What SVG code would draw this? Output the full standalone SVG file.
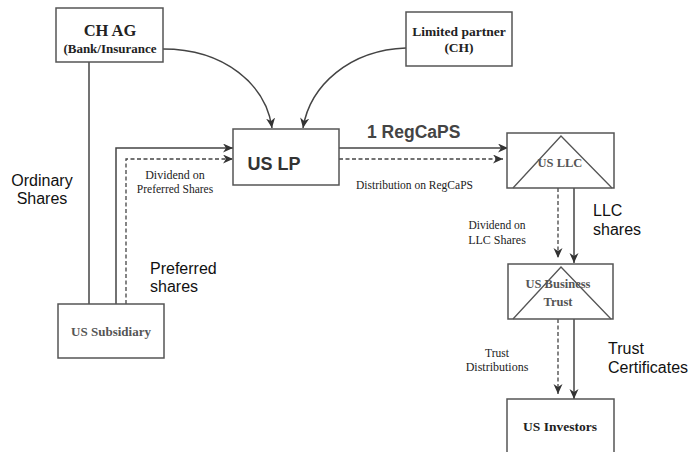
<svg xmlns="http://www.w3.org/2000/svg" width="691" height="452" viewBox="0 0 691 452">
<style>
.box{fill:#fff;stroke:#555;stroke-width:1.5}
.tri{fill:none;stroke:#555;stroke-width:1.3}
.ln{fill:none;stroke:#444;stroke-width:1.5}
.dl{fill:none;stroke:#444;stroke-width:1.3;stroke-dasharray:4 2.5}
.sb{font-family:"Liberation Serif","Times New Roman",serif;font-weight:bold;fill:#222;text-anchor:middle}
.sg{font-family:"Liberation Serif","Times New Roman",serif;font-weight:bold;fill:#555;text-anchor:middle}
.sr{font-family:"Liberation Serif","Times New Roman",serif;fill:#222}
.ss{font-family:"Liberation Sans",Arial,sans-serif;fill:#111;font-size:16px}
</style>
<defs>
<marker id="ah" markerUnits="userSpaceOnUse" markerWidth="12" markerHeight="10" refX="10" refY="4.5" orient="auto">
<path d="M0,0 L10,4.5 L0,9 L3,4.5 z" fill="#333"/>
</marker>
</defs>
<rect width="691" height="452" fill="#fff"/>
<g id="connectors">
<path class="ln" d="M89,62 V304"/>
<path class="ln" d="M116,307 V148 H233" marker-end="url(#ah)"/>
<path class="dl" d="M126,304 V159 H233" marker-end="url(#ah)"/>
<path class="ln" d="M163,49 C225,49 266,85 272,128" marker-end="url(#ah)"/>
<path class="ln" d="M406,48 C350,50 310,85 303,128" marker-end="url(#ah)"/>
<path class="ln" d="M339,148 H508" marker-end="url(#ah)"/>
<path class="dl" d="M339,159 H503" marker-end="url(#ah)"/>
<path class="dl" d="M558,188 V258" marker-end="url(#ah)"/>
<path class="ln" d="M574,188 V263" marker-end="url(#ah)"/>
<path class="dl" d="M558,319 V394" marker-end="url(#ah)"/>
<path class="ln" d="M574,319 V399" marker-end="url(#ah)"/>
</g>
<g id="chag">
<rect class="box" x="56" y="8" width="107" height="54"/>
<text class="sb" x="110" y="36" font-size="16.5">CH AG</text>
<text class="sb" x="110" y="53" font-size="13">(Bank/Insurance</text>
</g>
<g id="limited-partner">
<rect class="box" x="406" y="12" width="106" height="54"/>
<text class="sb" x="459" y="36" font-size="13.5">Limited partner</text>
<text class="sb" x="459" y="52" font-size="13.5">(CH)</text>
</g>
<g id="uslp">
<rect class="box" x="233" y="129" width="106" height="56"/>
<text x="274" y="170" font-family="Liberation Sans,Arial,sans-serif" font-weight="bold" font-size="18" fill="#333" text-anchor="middle">US LP</text>
</g>
<g id="usllc">
<rect class="box" x="507" y="133" width="107" height="55"/>
<path class="tri" d="M513,188 L561,136 L612,188"/>
<text class="sg" x="560" y="167" font-size="12.5">US LLC</text>
</g>
<g id="usbt">
<rect class="box" x="508" y="264" width="105" height="55"/>
<path class="tri" d="M513,319 L561,267 L611,319"/>
<text class="sg" x="558" y="288" font-size="12.5">US Business</text>
<text class="sg" x="558" y="306" font-size="12.5">Trust</text>
</g>
<g id="usinv">
<rect class="box" x="507" y="399" width="107" height="60"/>
<text class="sb" x="560" y="431" font-size="13.5">US Investors</text>
</g>
<g id="ussub">
<rect class="box" x="58" y="304" width="106" height="54"/>
<text class="sg" x="111" y="336" font-size="13">US Subsidiary</text>
</g>
<g id="labels">
<text class="ss" x="42" y="186" text-anchor="middle" font-size="15">Ordinary</text>
<text class="ss" x="42" y="204" text-anchor="middle" font-size="15">Shares</text>
<text class="sr" x="175" y="179" text-anchor="middle" font-size="12">Dividend on</text>
<text class="sr" x="175" y="193" text-anchor="middle" font-size="11.5">Preferred Shares</text>
<text class="ss" x="150" y="274">Preferred</text>
<text class="ss" x="150" y="292">shares</text>
<text x="367" y="138" font-family="Liberation Sans,Arial,sans-serif" font-weight="bold" font-size="17.5" fill="#444">1 RegCaPS</text>
<text class="sr" x="356" y="189" font-size="11.5">Distribution on RegCaPS</text>
<text class="sr" x="497" y="229" text-anchor="middle" font-size="11.5">Dividend on</text>
<text class="sr" x="497" y="244" text-anchor="middle" font-size="12">LLC Shares</text>
<text class="ss" x="593" y="216">LLC</text>
<text class="ss" x="593" y="235">shares</text>
<text class="sr" x="497" y="357" text-anchor="middle" font-size="11.5">Trust</text>
<text class="sr" x="497" y="371" text-anchor="middle" font-size="12">Distributions</text>
<text class="ss" x="608" y="354">Trust</text>
<text class="ss" x="608" y="373">Certificates</text>
</g>
</svg>
